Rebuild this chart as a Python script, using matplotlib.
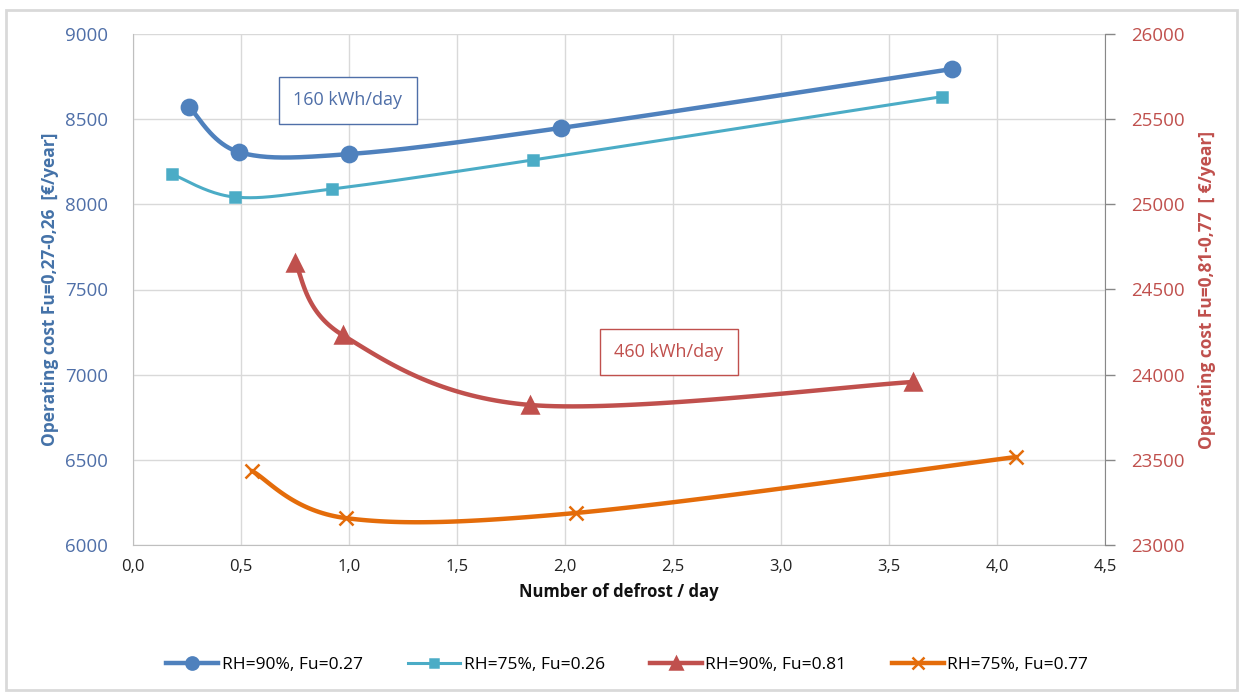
import numpy as np
import matplotlib
matplotlib.use('Agg')
import matplotlib.pyplot as plt
from matplotlib.patches import Rectangle

plt.rcParams['font.family'] = ['Open Sans', 'DejaVu Sans']

# left axis series (Fu=0.27 / 0.26)
x_rh90_l = [0.26, 0.49, 1.00, 1.98, 3.79]
y_rh90_l = [8572, 8307, 8295, 8448, 8794]
x_rh75_l = [0.18, 0.47, 0.92, 1.85, 3.745]
y_rh75_l = [8178, 8043, 8090, 8260, 8632]
# right axis series (Fu=0.81 / 0.77)
x_rh90_r = [0.75, 0.97, 1.84, 3.61]
y_rh90_r = [24656, 24233, 23822, 23957]
x_rh75_r = [0.55, 0.985, 2.05, 4.09]
y_rh75_r = [23435, 23158, 23188, 23517]

labels = ['RH=90%, Fu=0.27', 'RH=75%, Fu=0.26', 'RH=90%, Fu=0.81', 'RH=75%, Fu=0.77']
xticks = np.arange(0, 4.51, 0.5)
xticklabels = [('%.1f' % v).replace('.', ',') for v in xticks]

BLUE = '#4F81BD'
TEAL = '#4BACC6'
RED = '#C0504D'
ORANGE = '#E46C0A'


def smooth(xs, ys, sx, sy, n=40):
    # Catmull-Rom style smoothing like Excel, done in scaled space
    p = np.column_stack([np.array(xs) / sx, np.array(ys) / sy])
    out = []
    for i in range(len(p) - 1):
        p0 = p[i - 1] if i > 0 else p[i]
        p1, p2 = p[i], p[i + 1]
        p3 = p[i + 2] if i + 2 < len(p) else p[i + 1]
        c1 = p1 + (p2 - p0) / 6
        c2 = p2 - (p3 - p1) / 6
        t = np.linspace(0, 1, n)[:, None]
        seg = ((1 - t) ** 3) * p1 + 3 * ((1 - t) ** 2) * t * c1 + 3 * (1 - t) * t ** 2 * c2 + t ** 3 * p2
        out.append(seg)
    out = np.vstack(out)
    return out[:, 0] * sx, out[:, 1] * sy


fig = plt.figure(figsize=(12.42, 6.95), dpi=100)
ax = fig.add_axes([133 / 1242, 1 - 545 / 695, (1105 - 133) / 1242, (545 - 34) / 695])
ax2 = ax.twinx()

sx, sy = 4.5 / 972, 3000 / 511
lines = []
for xs, ys, c, m, ms, lw, a in [
        (x_rh90_l, y_rh90_l, BLUE, 'o', 11, 3.2, ax),
        (x_rh75_l, y_rh75_l, TEAL, 's', 7, 2.2, ax),
        (x_rh90_r, y_rh90_r, RED, '^', 11, 3.2, ax2),
        (x_rh75_r, y_rh75_r, ORANGE, 'x', 10, 3.2, ax2)]:
    sxs, sys_ = smooth(xs, ys, sx, sy)
    a.plot(sxs, sys_, color=c, lw=lw, solid_capstyle='round', zorder=3)
    a.plot(xs, ys, ls='none', marker=m, ms=ms, color=c, mew=1.8, zorder=4)
    lines.append(plt.Line2D([], [], color=c, lw=lw, marker=m, ms=ms * 0.8, mew=1.8))

ax.set_xlim(0, 4.5)
ax.set_ylim(6000, 9000)
ax2.set_ylim(23000, 26000)
ax.set_xticks(xticks)
ax.set_xticklabels(xticklabels, fontsize=12, color='#222222')
ax.set_yticks(np.arange(6000, 9001, 500))
ax2.set_yticks(np.arange(23000, 26001, 500))
ax.tick_params(axis='x', length=0, pad=10)
ax.tick_params(axis='y', length=0, pad=18, labelsize=13.5, labelcolor='#4F6FA8')
ax2.tick_params(axis='y', length=7, width=1, color='#888888', pad=12, labelsize=13.5, labelcolor=RED)
ax.grid(True, color='#D9D9D9', lw=1)
ax.set_axisbelow(True)
for s in ['top', 'right']:
    ax.spines[s].set_visible(False)
for s in ['left', 'bottom']:
    ax.spines[s].set_color('#BFBFBF')
for s in ['top', 'left', 'bottom']:
    ax2.spines[s].set_visible(False)
ax2.spines['right'].set_color('#888888')

ax.set_xlabel('Number of defrost / day', fontsize=12, fontweight='bold', color='#111111', labelpad=6)
ax.set_ylabel('Operating cost Fu=0,27-0,26  [€/year]', fontsize=12.5, fontweight='bold',
              color='#4472A8', labelpad=4)
ax2.set_ylabel('Operating cost Fu=0,81-0,77  [ €/year]', fontsize=12.5, fontweight='bold',
               color=RED, labelpad=9)

ax.text(0.995, 8610, '160 kWh/day', fontsize=13, color='#4F6FA8', ha='center', va='center', zorder=5,
        bbox=dict(boxstyle='square,pad=0.8', fc='white', ec='#4F6FA8', lw=1))
ax2.text(2.48, 24133, '460 kWh/day', fontsize=13, color=RED, ha='center', va='center', zorder=5,
         bbox=dict(boxstyle='square,pad=0.8', fc='white', ec=RED, lw=1))

fig.legend(lines, labels, loc='center', bbox_to_anchor=(0.505, 1 - 665 / 695), ncol=4,
           frameon=False, fontsize=12.5, handlelength=3, columnspacing=2.6, handletextpad=0.2)

fig.patches.append(Rectangle((6 / 1242, 5 / 695), 1231 / 1242, 680 / 695, transform=fig.transFigure,
                             fill=False, ec='#D9D9D9', lw=2))

plt.savefig('out.png', dpi=100)
